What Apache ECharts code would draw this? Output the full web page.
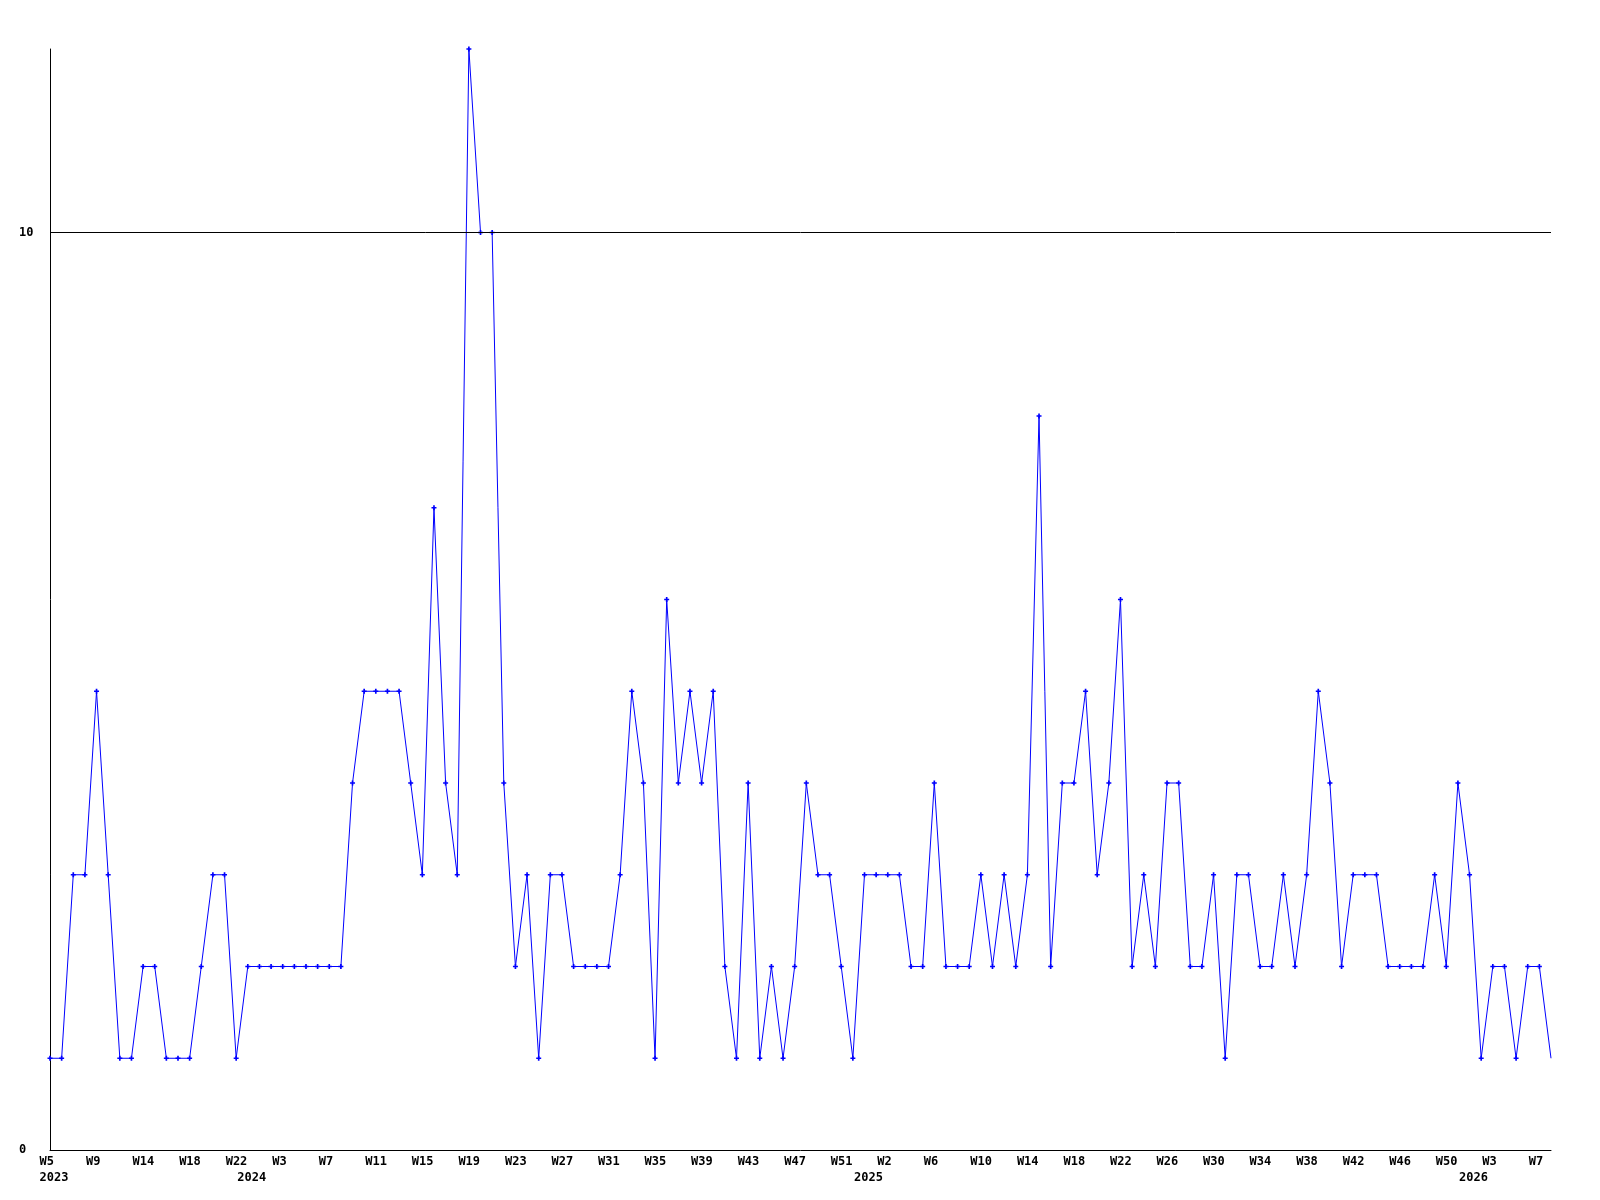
<!DOCTYPE html>
<html>
<head>
<meta charset="utf-8">
<script src="https://cdn.jsdelivr.net/npm/echarts@6/dist/echarts.min.js"></script>
<style>
  html, body { margin: 0; padding: 0; background: #fff; }
  #chart { width: 1600px; height: 1200px; }
</style>
</head>
<body>
<div id="chart"></div>
<script>
// weekly counts, one per point
const counts = [
  1, 1, 3, 3, 5, 3, 1, 1, 2, 2,
  1, 1, 1, 2, 3, 3, 1, 2, 2, 2,
  2, 2, 2, 2, 2, 2, 4, 5, 5, 5,
  5, 4, 3, 7, 4, 3, 12, 10, 10, 4,
  2, 3, 1, 3, 3, 2, 2, 2, 2, 3,
  5, 4, 1, 6, 4, 5, 4, 5, 2, 1,
  4, 1, 2, 1, 2, 4, 3, 3, 2, 1,
  3, 3, 3, 3, 2, 2, 4, 2, 2, 2,
  3, 2, 3, 2, 3, 8, 2, 4, 4, 5,
  3, 4, 6, 2, 3, 2, 4, 4, 2, 2,
  3, 1, 3, 3, 2, 2, 3, 2, 3, 5,
  4, 2, 3, 3, 3, 2, 2, 2, 2, 3,
  2, 4, 3, 1, 2, 2, 1, 2, 2, 1
];

// labels shown every 4th point
const weekTicks = [
  'W5', 'W9', 'W14', 'W18', 'W22', 'W3', 'W7', 'W11', 'W15', 'W19', 'W23',
  'W27', 'W31', 'W35', 'W39', 'W43', 'W47', 'W51', 'W2', 'W6', 'W10', 'W14',
  'W18', 'W22', 'W26', 'W30', 'W34', 'W38', 'W42', 'W46', 'W50', 'W3', 'W7'
];
const yearIndex = [0, 17, 70, 122];
const yearNames = ['2023', '2024', '2025', '2026'];
const refLine = 10;

const weekCats = counts.map((v, i) => (i % 4 === 0 ? weekTicks[i / 4] : ''));
const yearCats = counts.map((v, i) => {
  const k = yearIndex.indexOf(i);
  return k >= 0 ? yearNames[k] : '';
});

const font = 'DejaVu Sans Mono';
const labelRich = {
  t: { width: 21, align: 'left', fontFamily: font, fontWeight: 'bold', fontSize: 12, color: '#000' }
};

const chart = echarts.init(document.getElementById('chart'));
chart.setOption({
  animation: false,
  backgroundColor: '#fff',
  grid: { left: 50, right: 49, top: 49, bottom: 50 },
  xAxis: [
    {
      type: 'category',
      data: weekCats,
      boundaryGap: false,
      axisLine: { lineStyle: { color: '#000', width: 1 } },
      axisTick: { show: false },
      splitLine: { show: false },
      axisLabel: {
        interval: 3,
        margin: 6,
        align: 'center',
        formatter: (v) => '{t|' + v + '}',
        rich: labelRich
      }
    },
    {
      type: 'category',
      data: yearCats,
      boundaryGap: false,
      position: 'bottom',
      offset: 16,
      axisLine: { show: false },
      axisTick: { show: false },
      splitLine: { show: false },
      axisLabel: {
        interval: (i) => yearIndex.indexOf(i) >= 0,
        margin: 6,
        align: 'center',
        formatter: (v) => '{t|' + v + '}',
        rich: labelRich
      }
    }
  ],
  yAxis: {
    type: 'value',
    min: 0,
    max: 12,
    interval: 10,
    axisLine: { show: true, lineStyle: { color: '#000', width: 1 } },
    axisTick: { show: false },
    splitLine: { show: false },
    axisLabel: {
      showMaxLabel: false,
      align: 'left',
      margin: 31,
      fontFamily: font,
      fontWeight: 'bold',
      fontSize: 12,
      color: '#000'
    }
  },
  series: [
    {
      type: 'line',
      xAxisIndex: 0,
      data: counts.map((v, i) => (i === counts.length - 1 ? { value: v, symbol: 'none' } : v)),
      symbol: 'path://M1,0H2V1H3V2H2V3H1V2H0V1H1Z',
      symbolSize: 5,
      showAllSymbol: true,
      lineStyle: { color: '#0000ff', width: 1 },
      itemStyle: { color: '#0000ff' },
      markLine: {
        silent: true,
        symbol: ['none', 'none'],
        label: { show: false },
        lineStyle: { color: '#000', type: 'solid', width: 1 },
        data: [{ yAxis: refLine }]
      }
    }
  ]
});
</script>
</body>
</html>
